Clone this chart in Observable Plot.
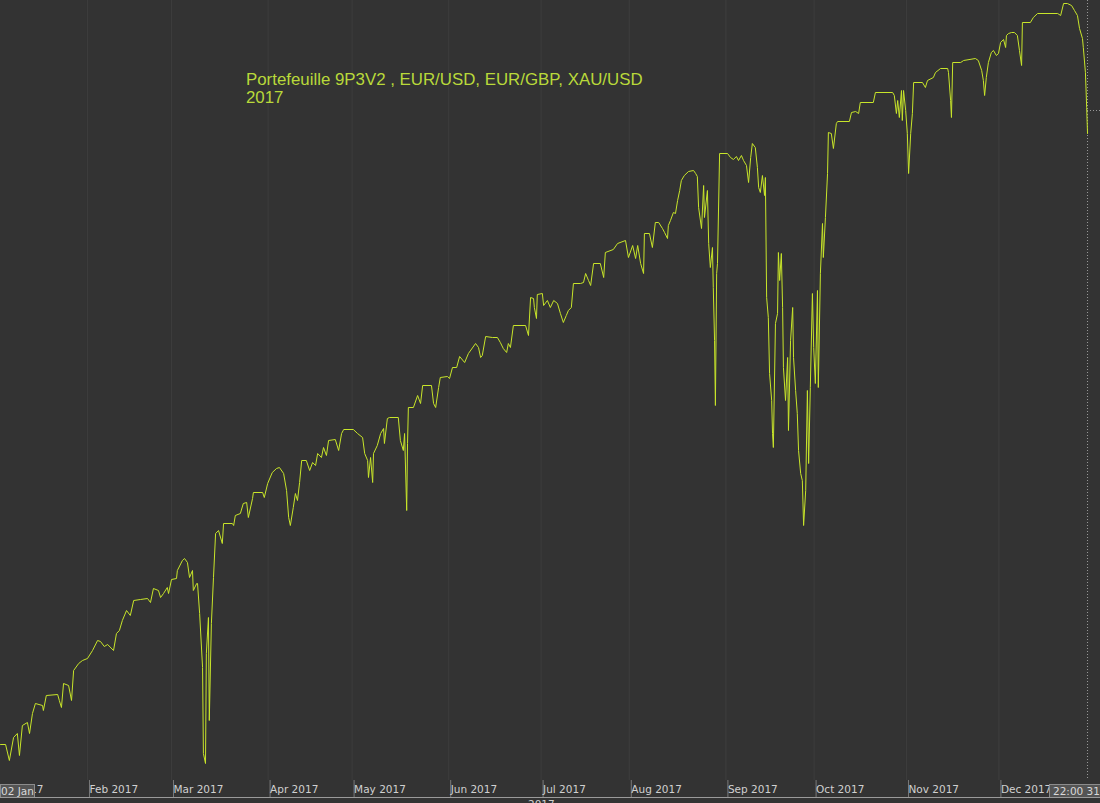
<!DOCTYPE html>
<html>
<head>
<meta charset="utf-8">
<script src="https://cdn.jsdelivr.net/npm/d3@7"></script>
<script src="https://cdn.jsdelivr.net/npm/@observablehq/plot@0.6"></script>
<style>
  html, body { margin: 0; padding: 0; background: #333333; overflow: hidden; }
  #wrap { position: relative; width: 1100px; height: 803px; }
  #title { position: absolute; left: 246px; top: 71px; font-family: "Liberation Sans", Arial, sans-serif; font-size: 16.85px; line-height: 18px; color: #b9d93a; white-space: nowrap; }
  .box { position: absolute; top: 784px; height: 12px; background: #545454; border: 1px solid #8c8c8c; font-family: "DejaVu Sans", sans-serif; font-size: 10.5px; line-height: 12px; color: #d8d8d8; white-space: nowrap; overflow: hidden; }
  #year { position: absolute; left: 528px; top: 798px; font-family: "DejaVu Sans", sans-serif; font-size: 10.5px; color: #cfcfcf; }
  #baseline { position: absolute; left: 0; top: 797px; width: 1100px; height: 1px; background: #9a9a9a; }
</style>
</head>
<body>
<div id="wrap">
  <div id="chart"></div>
  <div id="title">Portefeuille 9P3V2 , EUR/USD, EUR/GBP, XAU/USD<br>2017</div>
  <div class="box" style="left:0px;width:33px;padding-left:0px;">02 Jan</div>
  <div class="box" style="left:1049px;width:60px;padding-left:3px;">22:00 31</div>
  <div id="baseline"></div>
  <div id="year">2017</div>
</div>
<script>
// x = trading-day index since 02 Jan 2017, y = cumulative gain (pips)
const janFeb = [[1.3,36],[2.5,36],[3.4,20],[4.4,43],[5.3,47],[5.8,25],[6.5,55],[7.7,58],[8.2,47],[8.9,67],[9.6,77],[11.3,75],[11.5,70],[12.2,85],[14.9,86],[15.3,80],[15.8,73],[16.3,97],[17.5,95],[18.2,80],[18.7,110],[19.9,117],[20.8,120],[22.0,122],[23.2,130],[24.4,140],[25.1,139],[26.0,134],[26.8,136],[28.2,130],[28.9,147],[29.6,150],[30.3,160],[31.3,170],[32.2,165],[33.0,180],[34.6,181],[36.3,182],[37.0,178],[37.7,192],[38.9,190],[39.4,183],[40.1,187],[41.0,193],[41.3,187],[42.0,201],[43.2,202],[43.4,210],[44.6,220],[45.1,222],[45.8,218],[46.3,203],[47.0,210],[47.2,190],[48.0,197],[48.2,197],[48.7,167],[49.4,113],[49.6,27],[50.1,17],[50.3,127],[50.8,163],[51.0,60],[51.5,157],[52.0,203],[52.5,247],[53.2,250],[54.1,237],[54.4,257]];
const marMay = [[56.5,257],[56.8,255],[57.2,265],[58.4,267],[59.1,277],[59.9,278],[60.3,263],[61.3,282],[61.5,288],[63.7,288],[64.1,283],[64.9,297],[66.0,308],[67.0,312],[67.7,313],[68.7,307],[69.4,290],[69.9,263],[70.3,255],[71.0,273],[71.5,287],[72.0,280],[72.5,298],[73.0,320],[74.1,320],[74.9,310],[75.6,318],[76.3,315],[76.8,327],[77.7,323],[78.2,333],[78.9,325],[79.4,340],[81.0,341],[81.8,330],[82.5,347],[83.0,351],[85.3,351],[86.3,347],[87.5,343],[88.0,327],[88.7,320],[88.9,303],[89.4,323],[89.9,298],[90.1,327],[91.0,335],[91.8,347],[92.5,352],[92.7,337],[93.4,362],[93.9,363],[96.0,363],[96.5,340],[97.2,330],[97.5,347],[98.0,270],[98.2,337],[98.4,373]];
const junJul = [[99.6,373],[100.6,385],[101.3,377],[101.8,395],[103.9,395],[104.4,377],[104.9,373],[105.6,393],[106.0,403],[107.7,404],[108.2,402],[108.9,413],[109.9,413],[110.6,424],[111.8,418],[112.7,427],[114.4,437],[115.1,433],[115.6,423],[116.0,425],[116.8,444],[118.4,443],[119.6,443],[120.3,438],[121.0,432],[121.8,428],[122.2,437],[122.7,433],[123.4,455],[126.3,455],[127.0,445],[127.5,483],[128.2,482],[128.4,473],[128.9,462],[129.1,486],[130.3,487],[130.6,475],[131.5,480],[132.2,473],[133.0,480],[133.9,477],[134.6,467],[135.3,458],[136.0,465],[136.5,470],[137.2,473],[137.7,497],[139.4,497],[140.1,498],[140.6,507],[141.3,500],[141.8,495],[142.5,517],[144.1,517],[144.9,503],[145.3,528],[147.2,531],[148.2,537],[150.1,540],[150.8,523],[151.8,535],[152.5,522],[153.0,535],[153.7,517],[154.4,507],[154.6,547],[155.8,547],[156.5,533],[157.2,558],[158.0,558],[158.9,552],[159.4,548],[160.1,542],[160.3,555],[160.8,560],[161.5,568],[162.0,567],[162.5,580],[163.0,590],[163.4,600],[164.1,605],[165.1,609],[166.3,610]];
const augSep = [[166.8,607],[167.2,604],[167.5,573],[168.2,552],[168.7,595],[168.9,563],[169.6,590],[169.9,537],[170.3,513],[170.8,533],[171.0,493],[171.3,440],[171.5,375],[171.8,507],[172.0,517],[172.5,627],[174.4,627],[175.1,623],[175.8,621],[176.5,624],[177.0,620],[177.7,625],[178.2,620],[178.9,615],[179.4,598],[179.9,623],[180.3,637],[181.0,633],[181.5,613],[181.8,593],[182.2,588],[182.7,605],[183.2,585],[183.4,603],[183.7,483],[184.1,463],[184.4,407],[184.9,380],[185.1,347],[185.3,333],[185.8,457],[186.3,467],[186.5,528],[186.8,500],[187.2,527],[187.5,473],[187.7,413],[188.2,380],[188.7,423],[188.9,350],[189.4,440],[189.9,473],[190.1,423],[190.6,390],[191.0,367],[191.3,330],[191.8,307],[192.2,300],[192.5,255],[193.0,290],[193.4,390],[193.7,317],[194.1,393],[194.6,487],[194.9,433],[195.3,397],[195.8,490],[196.0,393],[196.5,507],[197.0,557],[197.2,523],[197.7,563],[198.2,607],[198.4,648]];
const octDec = [[199.1,647],[199.6,632],[200.3,657],[200.6,659],[203.4,659],[203.9,668],[204.9,669],[205.6,667],[206.0,678],[209.1,678],[209.6,688],[213.7,688],[214.1,685],[214.6,667],[214.9,680],[215.3,663],[215.8,690],[216.0,660],[216.3,690],[216.8,670],[217.2,647],[217.5,607],[218.0,647],[218.4,667],[218.7,698],[220.8,698],[221.5,693],[222.0,700],[223.4,703],[223.9,708],[225.1,712],[226.8,712],[227.0,708],[227.5,680],[227.7,663],[228.0,718],[229.9,718],[230.6,720],[233.4,722],[234.1,720],[234.9,710],[235.3,700],[235.6,685],[236.0,703],[236.5,718],[237.2,728],[237.7,730],[238.4,725],[238.9,727],[239.4,738],[240.1,741],[240.6,733],[240.8,745],[241.3,747],[242.0,748],[242.7,748],[243.4,745],[243.9,730],[244.4,715],[244.6,758],[246.5,758],[247.2,763],[248.2,767],[253.0,767],[253.7,765],[254.4,777],[255.3,777],[256.3,775],[257.0,770],[257.7,765],[258.2,752],[258.9,742],[259.1,733],[259.6,708],[259.9,673],[260.1,647]];

// month starts as trading-day index
const monthTicks = [0, 22, 42, 65, 85, 108, 130, 151, 174, 195, 217, 239];
const monthLabels = ["Jan 2017", "Feb 2017", "Mar 2017", "Apr 2017", "May 2017", "Jun 2017", "Jul 2017", "Aug 2017", "Sep 2017", "Oct 2017", "Nov 2017", "Dec 2017"];
const lastDay = 260.1;
const crossLevel = 670;

const series = [...janFeb, ...marMay, ...junJul, ...augSep, ...octDec].map(([d, p]) => ({day: d, pips: p}));
const labelOf = new Map(monthTicks.map((t, i) => [t, monthLabels[i]]));

const chart = Plot.plot({
  width: 1100,
  height: 797,
  marginTop: 0,
  marginBottom: 17,
  marginLeft: 0,
  marginRight: 0,
  style: {background: "#333333", color: "#cfcfcf", fontFamily: "DejaVu Sans, sans-serif", fontSize: "10.5px", overflow: "visible"},
  x: {domain: [1.29, 263.19], axis: null},
  y: {domain: [0, 780], axis: null},
  marks: [
    Plot.ruleX(monthTicks, {stroke: "#3d3d3d", strokeWidth: 1}),
    Plot.axisX(monthTicks, {
      anchor: "bottom",
      tickSize: 17,
      tickPadding: -12,
      stroke: "#7a7a7a",
      fill: "#d0d0d0",
      textAnchor: "start",
      dx: 2,
      tickFormat: d => labelOf.get(d),
      label: null
    }),
    Plot.ruleX([lastDay], {stroke: "#9a9a9a", strokeDasharray: "1,2", strokeWidth: 1}),
    Plot.ruleY([crossLevel], {x1: lastDay, x2: 263.19, stroke: "#9a9a9a", strokeDasharray: "1,2"}),
    Plot.line(series, {x: "day", y: "pips", stroke: "#c8e52a", strokeWidth: 1, curve: "linear"})
  ]
});
document.getElementById("chart").appendChild(chart);
</script>
</body>
</html>
